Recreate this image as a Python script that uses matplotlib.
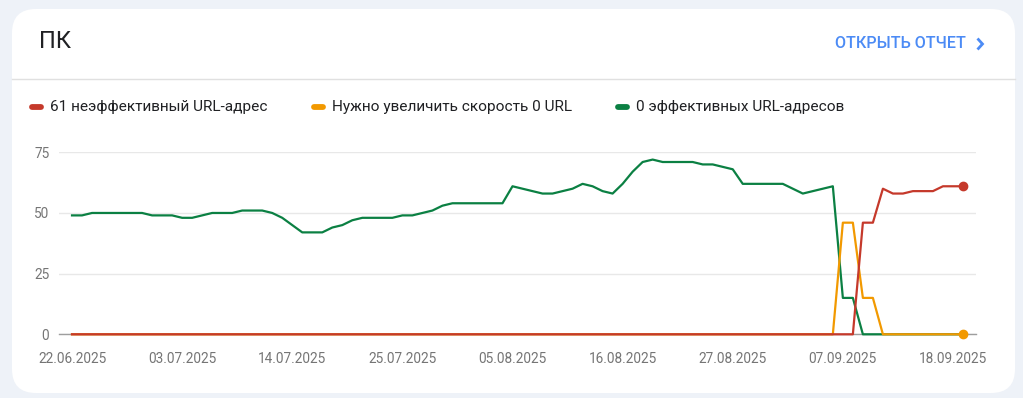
import numpy as np
import pandas as pd
import matplotlib
matplotlib.use("Agg")
import matplotlib.pyplot as plt
import matplotlib.dates as mdates
from matplotlib.patches import FancyBboxPatch

plt.rcParams['font.family'] = ['Roboto', 'DejaVu Sans']

# ---- data (one value per day) ----
start_date = "2025-06-22"
n_days = 90
dates = pd.date_range(start_date, periods=n_days, freq="D")

good = [49, 49, 50, 50, 50, 50, 50, 50, 49, 49,
        49, 48, 48, 49, 50, 50, 50, 51, 51, 51,
        50, 48, 45, 42, 42, 42, 44, 45, 47, 48,
        48, 48, 48, 49, 49, 50, 51, 53, 54, 54,
        54, 54, 54, 54, 61, 60, 59, 58, 58, 59,
        60, 62, 61, 59, 58, 62, 67, 71, 72, 71,
        71, 71, 71, 70, 70, 69, 68, 62, 62, 62,
        62, 62, 60, 58, 59, 60, 61, 15, 15, 0] + [0] * 10
needs_work = [0] * 77 + [46, 46, 15, 15] + [0] * 9
poor = [0] * 79 + [46, 46, 60, 58, 58, 59, 59, 59, 61, 61, 61]

tick_dates = pd.date_range(start_date, "2025-09-18", freq="11D")
y_ticks = [0, 25, 50, 75]

legend_labels = ["61 неэффективный URL-адрес",
                 "Нужно увеличить скорость 0 URL",
                 "0 эффективных URL-адресов"]

RED = "#c5392b"
ORANGE = "#f29900"
GREEN = "#0b8043"

W, H = 1023, 398
fig = plt.figure(figsize=(W / 100, H / 100), dpi=100)
fig.patch.set_facecolor("#eef2f8")

# background axes in pixel coordinates (card, title, legend)
bg = fig.add_axes([0, 0, 1, 1])
bg.set_xlim(0, W)
bg.set_ylim(H, 0)
bg.axis("off")

card = FancyBboxPatch((12, 9), 1003, 384, boxstyle="round,pad=0,rounding_size=24",
                      facecolor="white", edgecolor="none")
bg.add_patch(card)
bg.plot([12, 1015], [78.5, 78.5], color="#e0e0e0", lw=1)

bg.text(39, 42, "ПК", fontsize=17, color="#202124", va="center", ha="left")
bg.text(966, 44, "ОТКРЫТЬ ОТЧЕТ", fontsize=11.6, color="#4c8bf5",
        fontweight="medium", va="center", ha="right")
bg.plot([977.5, 982.5, 977.5], [38.5, 44, 49.5], color="#4c8bf5", lw=2,
        solid_capstyle="butt", solid_joinstyle="miter")

# legend
leg_items = [(30, RED), (312, ORANGE), (616, GREEN)]
for (x, col), label in zip(leg_items, legend_labels):
    bg.plot([x + 2, x + 11], [107, 107], color=col, lw=4.2, solid_capstyle="round")
    bg.text(x + 20, 107, label, fontsize=11.05, color="#202124", va="center", ha="left")

# ---- chart ----
left, right = 59 / W, 975.7 / W
bottom, top = (H - 334.3) / H, (H - 152.3) / H
ax = fig.add_axes([left, bottom, right - left, top - bottom])
ax.set_facecolor("none")

ax.plot(dates, good, color=GREEN, lw=1.6, clip_on=False, zorder=3)
ax.plot(dates, needs_work, color=ORANGE, lw=1.6, clip_on=False, zorder=4)
ax.plot(dates, poor, color=RED, lw=1.6, clip_on=False, zorder=5)
ax.plot(dates[-1], needs_work[-1], "o", color=ORANGE, ms=6, clip_on=False, zorder=4)
ax.plot(dates[-1], poor[-1], "o", color=RED, ms=6, clip_on=False, zorder=5)

ax.set_ylim(0, 75)
ax.set_xlim(dates[0] - pd.Timedelta(days=1.3), dates[-1] + pd.Timedelta(days=1.27))
ax.set_yticks(y_ticks)
ax.set_xticks(tick_dates)
ax.xaxis.set_major_formatter(mdates.DateFormatter("%d.%m.%Y"))

for s in ["top", "right", "left"]:
    ax.spines[s].set_visible(False)
ax.spines["bottom"].set_color("#9e9e9e")
ax.spines["bottom"].set_linewidth(1)
ax.grid(axis="y", color="#e8e8e8", lw=1)
ax.set_axisbelow(True)
ax.tick_params(axis="both", length=0, labelsize=9.8, colors="#757575")
ax.tick_params(axis="y", pad=7)
ax.tick_params(axis="x", pad=13)

fig.savefig("out.png", dpi=100, facecolor=fig.get_facecolor())
